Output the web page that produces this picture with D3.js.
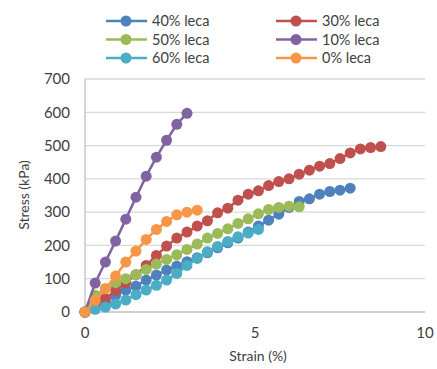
<!DOCTYPE html>
<html>
<head>
<meta charset="utf-8">
<script src="https://cdn.jsdelivr.net/npm/d3@7"></script>
<style>
  body { margin: 0; background: #fff; }
  text { font-family: Lato, "Open Sans", sans-serif; fill: #404040; }
</style>
</head>
<body>
<script>
// strain steps (%) shared by every series, one point per 0.3 %
var strain = [0, 0.3, 0.6, 0.9, 1.2, 1.5, 1.8, 2.1, 2.4, 2.7, 3.0, 3.3, 3.6, 3.9, 4.2,
              4.5, 4.8, 5.1, 5.4, 5.7, 6.0, 6.3, 6.6, 6.9, 7.2, 7.5, 7.8, 8.1, 8.4, 8.7];

var seriesNames = ["40% leca", "30% leca", "50% leca", "10% leca", "60% leca", "0% leca"];
var seriesColors = ["#4F81BD", "#C0504D", "#9BBB59", "#8064A2", "#4BACC6", "#F79646"];

// stress (kPa)
var leca40 = [0, 15, 30, 50, 66, 78, 96, 111, 126, 138, 151, 163, 178, 193, 208,
              222, 240, 258, 276, 294, 314, 332, 340, 354, 362, 366, 372];
var leca30 = [0, 25, 40, 65, 88, 112, 140, 170, 198, 222, 240, 258, 274, 298, 312,
              336, 354, 364, 380, 392, 400, 414, 426, 438, 446, 461, 478, 490, 494, 497];
var leca50 = [0, 50, 70, 88, 100, 112, 128, 144, 158, 172, 188, 204, 222, 236, 250,
              266, 280, 295, 308, 314, 318, 316];
var leca10 = [0, 87, 150, 213, 279, 345, 408, 465, 516, 564, 597];
var leca60 = [0, 8, 15, 24, 36, 52, 66, 80, 96, 116, 140, 161, 181, 197, 212,
              226, 237, 248];
var leca0 = [0, 35, 70, 108, 150, 183, 218, 248, 272, 292, 300, 306];

var xTicks = [0, 5, 10];
var yTicks = [0, 100, 200, 300, 400, 500, 600, 700];

var allSeries = [leca40, leca30, leca50, leca10, leca60, leca0].map(function (vals, i) {
  return {
    name: seriesNames[i],
    color: seriesColors[i],
    points: vals.map(function (v, j) { return [strain[j], v]; })
  };
});

var W = 437, H = 369;
var svg = d3.select("body").append("svg").attr("width", W).attr("height", H);

var x = d3.scaleLinear().domain([0, 10]).range([85, 425]);
var y = d3.scaleLinear().domain([0, 700]).range([312, 79]);

// gridlines
svg.append("g").selectAll("line")
  .data(yTicks.slice(1))
  .enter().append("line")
    .attr("x1", x(0)).attr("x2", x(10))
    .attr("y1", function (d) { return y(d); })
    .attr("y2", function (d) { return y(d); })
    .attr("stroke", "#D9D9D9").attr("stroke-width", 1.3);

// axes lines
svg.append("line").attr("x1", x(0)).attr("x2", x(10)).attr("y1", y(0)).attr("y2", y(0))
  .attr("stroke", "#BFBFBF").attr("stroke-width", 1.3);
svg.append("line").attr("x1", x(0)).attr("x2", x(0)).attr("y1", y(0)).attr("y2", y(700))
  .attr("stroke", "#BFBFBF").attr("stroke-width", 1.3);

// tick labels
svg.append("g").selectAll("text")
  .data(yTicks)
  .enter().append("text")
    .attr("x", 70).attr("y", function (d) { return y(d); })
    .attr("dy", "0.35em").attr("text-anchor", "end")
    .style("font-size", "15px")
    .text(function (d) { return d; });

svg.append("g").selectAll("text")
  .data(xTicks)
  .enter().append("text")
    .attr("x", function (d) { return x(d); }).attr("y", 338)
    .attr("text-anchor", "middle")
    .style("font-size", "15px")
    .text(function (d) { return d; });

// axis titles
svg.append("text").attr("x", 258).attr("y", 361).attr("text-anchor", "middle")
  .style("font-size", "14px").text("Strain (%)");
svg.append("text").attr("transform", "translate(29,195) rotate(-90)")
  .attr("text-anchor", "middle").style("font-size", "14px").text("Stress (kPa)");

// series
var line = d3.line()
  .x(function (d) { return x(d[0]); })
  .y(function (d) { return y(d[1]); });

var seriesG = svg.append("g").selectAll("g")
  .data(allSeries)
  .enter().append("g");

seriesG.append("path")
  .attr("d", function (d) { return line(d.points); })
  .attr("fill", "none")
  .attr("stroke", function (d) { return d.color; })
  .attr("stroke-width", 2.5);

seriesG.selectAll("circle")
  .data(function (d) { return d.points.map(function (p) { return { p: p, c: d.color }; }); })
  .enter().append("circle")
    .attr("cx", function (d) { return x(d.p[0]); })
    .attr("cy", function (d) { return y(d.p[1]); })
    .attr("r", 5.5)
    .attr("fill", function (d) { return d.c; });

// legend, 2 columns x 3 rows
var legend = svg.append("g").selectAll("g")
  .data(allSeries)
  .enter().append("g")
    .attr("transform", function (d, i) {
      return "translate(" + (i % 2 === 0 ? 106 : 276) + "," + (21 + Math.floor(i / 2) * 18.5) + ")";
    });

legend.append("line").attr("x1", 0).attr("x2", 41)
  .attr("stroke", function (d) { return d.color; }).attr("stroke-width", 2.5);
legend.append("circle").attr("cx", 20).attr("r", 5.5)
  .attr("fill", function (d) { return d.color; });
legend.append("text").attr("x", 46).attr("dy", "0.35em")
  .style("font-size", "14.5px")
  .text(function (d) { return d.name; });
</script>
</body>
</html>
